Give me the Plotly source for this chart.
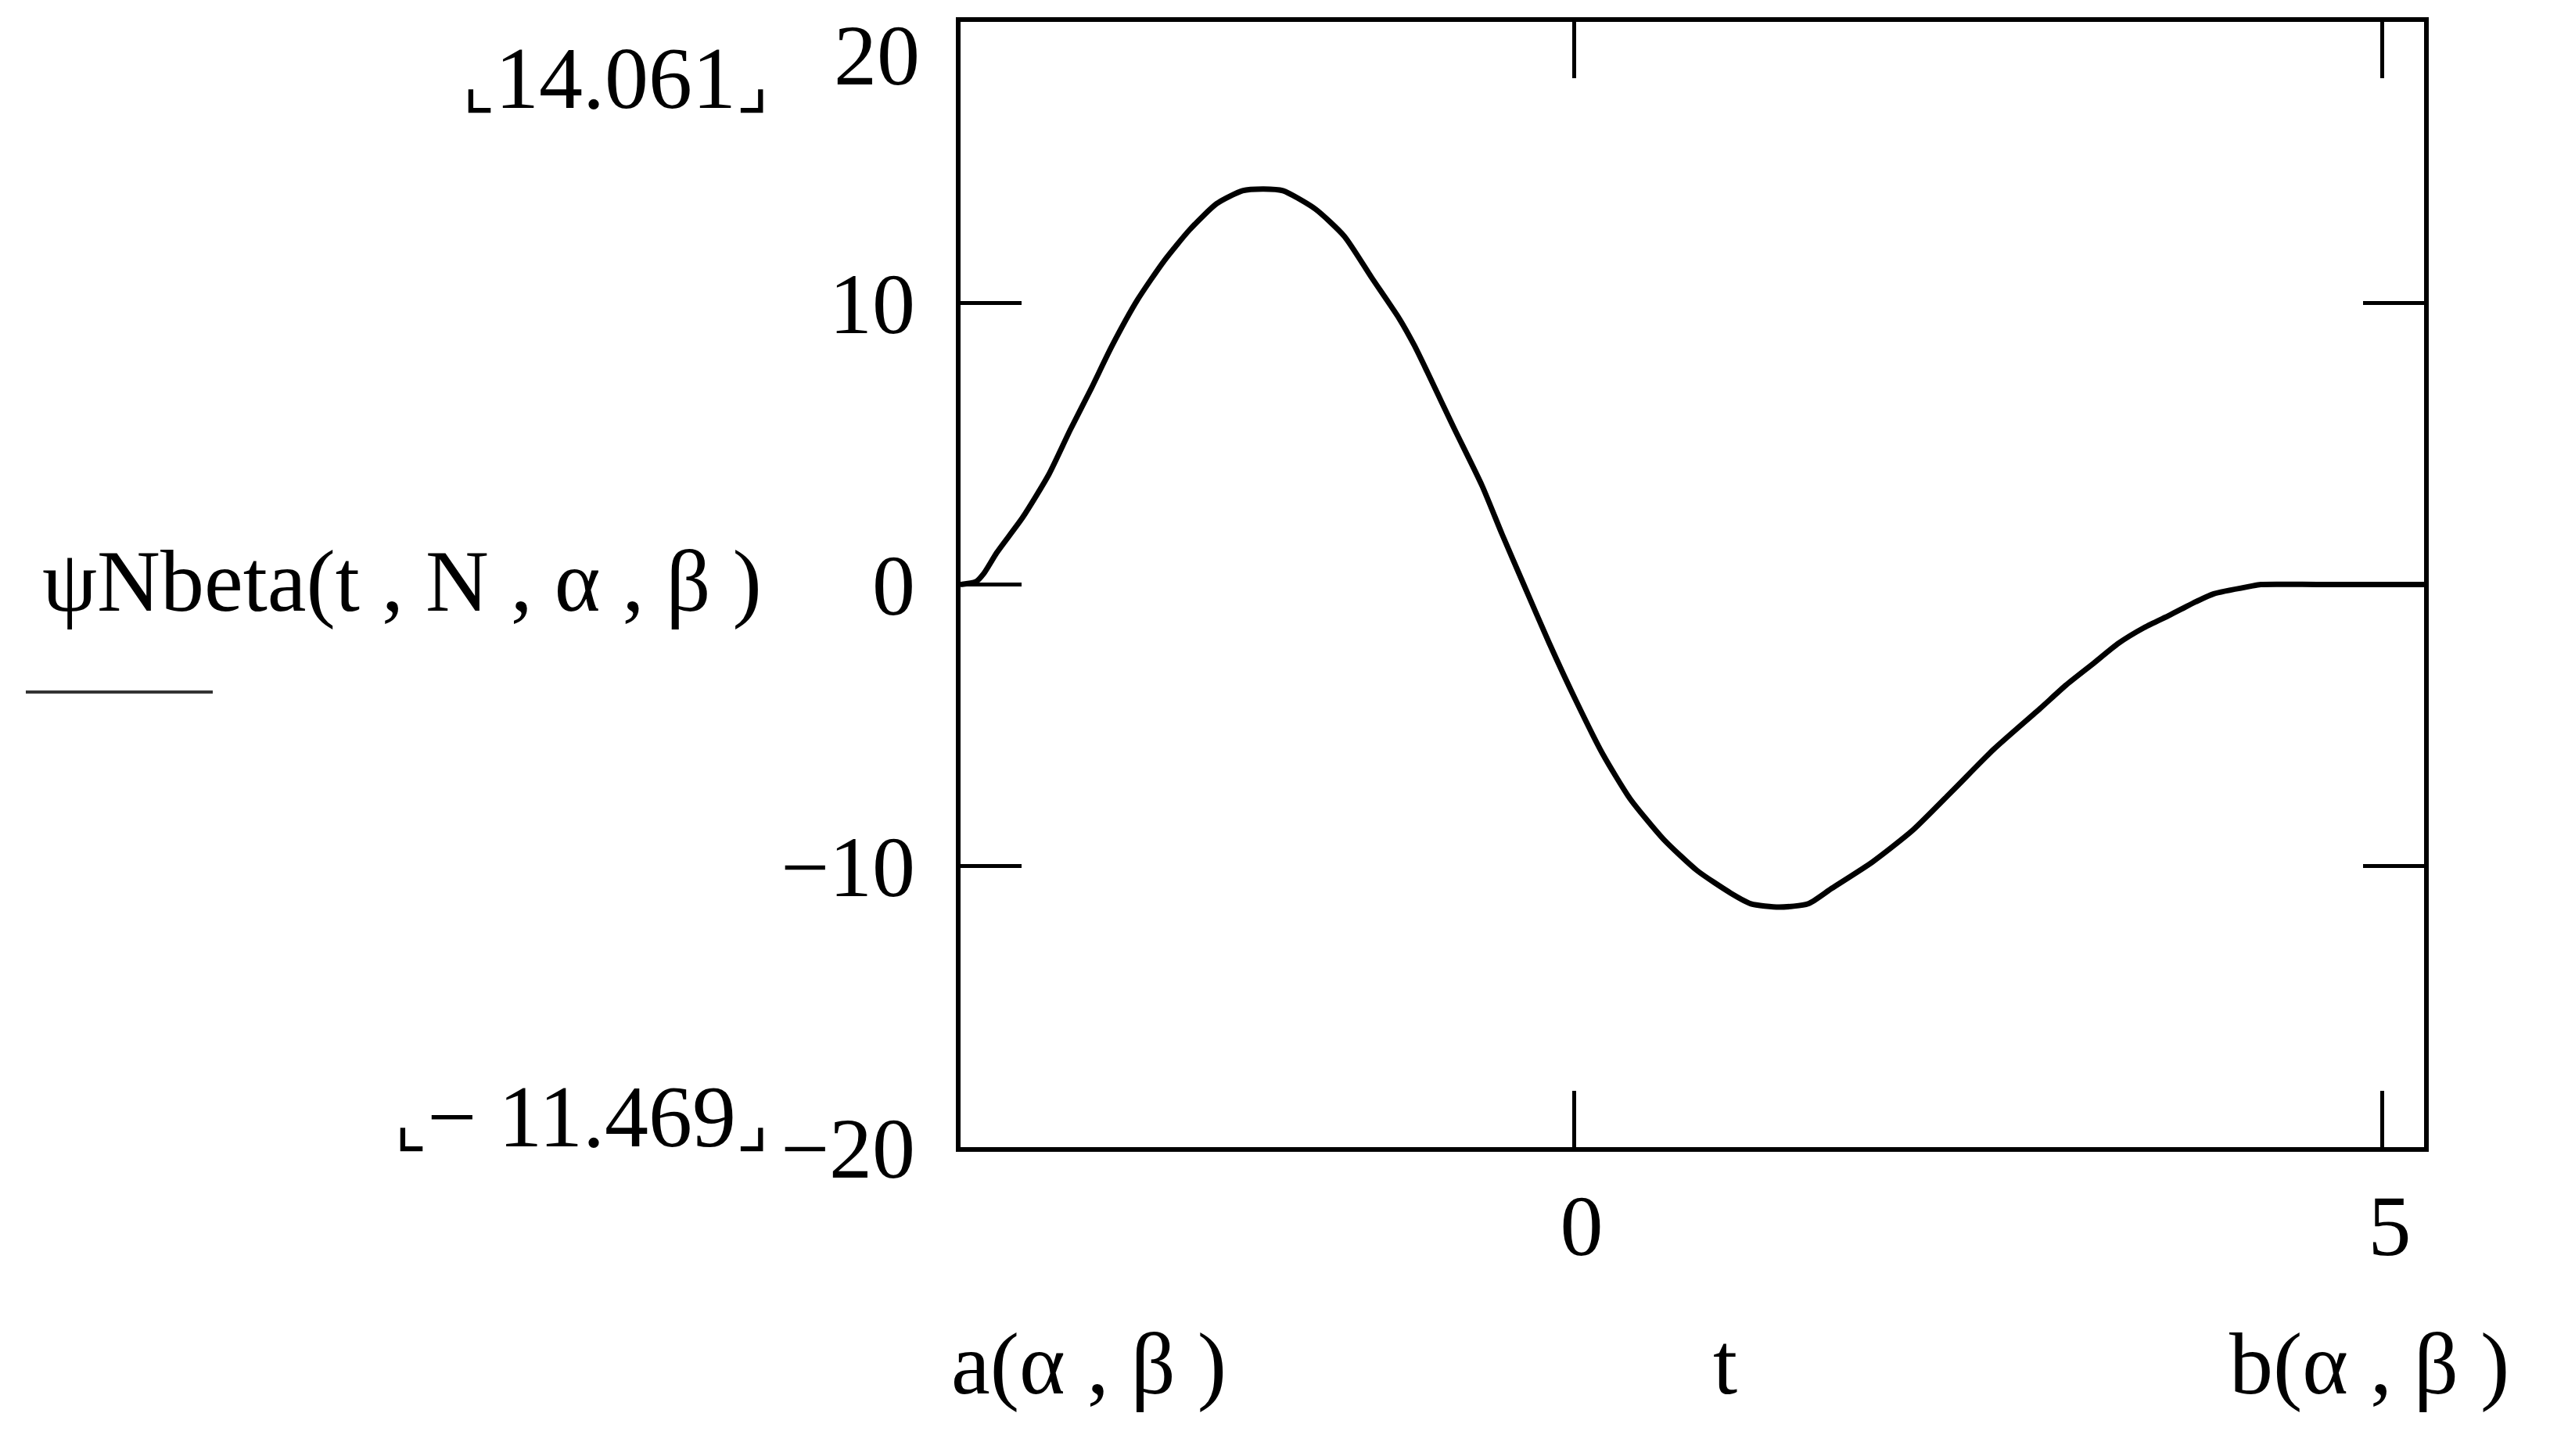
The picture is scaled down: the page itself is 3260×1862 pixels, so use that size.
import plotly.graph_objects as go

# curve
t_vals = [-3.795, -3.70, -3.65, -3.57, -3.41, -3.248, -3.117, -2.987, -2.86, -2.70,
          -2.536, -2.376, -2.21, -2.05, -1.92, -1.80, -1.60, -1.42, -1.25, -1.08,
          -0.987, -0.907, -0.745, -0.567, -0.445, -0.31, -0.155, 0.013, 0.18, 0.346,
          0.554, 0.763, 0.971, 1.096, 1.27, 1.45, 1.596, 1.846, 2.096, 2.347,
          2.596, 2.885, 3.045, 3.21, 3.37, 3.53, 3.69, 3.85, 3.96, 4.19,
          4.25, 4.6, 5.0, 5.261]
psi_vals = [0.0, 0.1, 0.4, 1.14, 2.39, 3.92, 5.49, 6.96, 8.46, 10.12,
            11.5, 12.62, 13.54, 14.0, 14.061, 14.0, 13.35, 12.38, 10.9, 9.45,
            8.5, 7.56, 5.6, 3.5, 1.8, 0.0, -2.05, -4.13, -6.04, -7.6,
            -9.05, -10.17, -10.97, -11.35, -11.469, -11.35, -10.8, -9.87, -8.74, -7.31,
            -5.87, -4.41, -3.58, -2.83, -2.09, -1.53, -1.08, -0.61, -0.33, -0.06,
            0.0, 0.0, 0.0, 0.0]

x_range = [-3.795, 5.261]
y_range = [-20, 20]
x_ticks = [0, 5]
y_ticks = [-20, -10, 0, 10, 20]
y_ticktext = ["−20", "−10", "0", "10", ""]   # top label "20" placed separately
y_top_label = "20"
max_label = "14.061"
min_label = "− 11.469"
y_title = "ψNbeta(t , N , α , β )"
x_left_label = "a(α , β )"
x_mid_label = "t"
x_right_label = "b(α , β )"

FONT = "Liberation Serif, Times New Roman, serif"
FS = 110
FS_LABEL = 112

W, H = 3260, 1862
L, R, T, B = 1220, 3091, 20, 1459


def px(x):
    return (x - L) / (R - L)


def py(y):
    return (B - y) / (B - T)


fig = go.Figure()
fig.add_trace(go.Scatter(x=t_vals, y=psi_vals, mode="lines",
                         line=dict(color="black", width=7, shape="spline", smoothing=0.6),
                         showlegend=False, hoverinfo="skip"))

axis_common = dict(showgrid=False, zeroline=False, showline=True, mirror="ticks",
                   linecolor="black", linewidth=6, ticks="inside", tickcolor="black",
                   tickwidth=5, ticklabeloverflow="allow",
                   tickfont=dict(family=FONT, size=FS, color="black"))

fig.update_xaxes(range=x_range, tickvals=x_ticks, ticklen=72, ticklabelstandoff=0,
                 ticklabelshift=10, **axis_common)
fig.update_yaxes(range=y_range, tickvals=y_ticks, ticktext=y_ticktext, ticklen=78,
                 ticklabelstandoff=30, **axis_common)

bracket = "<span style='font-size:90px'>{}</span>"
annotations = [
    dict(text=y_top_label, x=px(1170), y=py(0), xanchor="right", yanchor="top",
         font=dict(family=FONT, size=FS, color="black")),
    dict(text=bracket.format("⌞") + max_label + bracket.format("⌟"),
         x=px(977), y=py(92), xanchor="right", yanchor="middle"),
    dict(text=bracket.format("⌞") + min_label + bracket.format("⌟"),
         x=px(977), y=py(1420), xanchor="right", yanchor="middle"),
    dict(text=y_title, x=px(44), y=py(735), xanchor="left", yanchor="middle"),
    dict(text=x_left_label, x=px(1206), y=py(1736), xanchor="left", yanchor="middle"),
    dict(text=x_mid_label, x=px(2197), y=py(1736), xanchor="center", yanchor="middle"),
    dict(text=x_right_label, x=px(3202), y=py(1736), xanchor="right", yanchor="middle"),
]
for a in annotations:
    a.update(xref="paper", yref="paper", showarrow=False)
    if "font" not in a:
        a["font"] = dict(family=FONT, size=FS_LABEL, color="black")
fig.update_layout(annotations=annotations)

fig.add_shape(type="line", xref="paper", yref="paper",
              x0=px(25), x1=px(264), y0=py(877), y1=py(877),
              line=dict(color="#333333", width=4))

fig.update_layout(width=W, height=H, paper_bgcolor="white", plot_bgcolor="white",
                  margin=dict(l=L, r=W - R, t=T, b=H - B, autoexpand=False),
                  showlegend=False)

fig.write_html("out.html")
